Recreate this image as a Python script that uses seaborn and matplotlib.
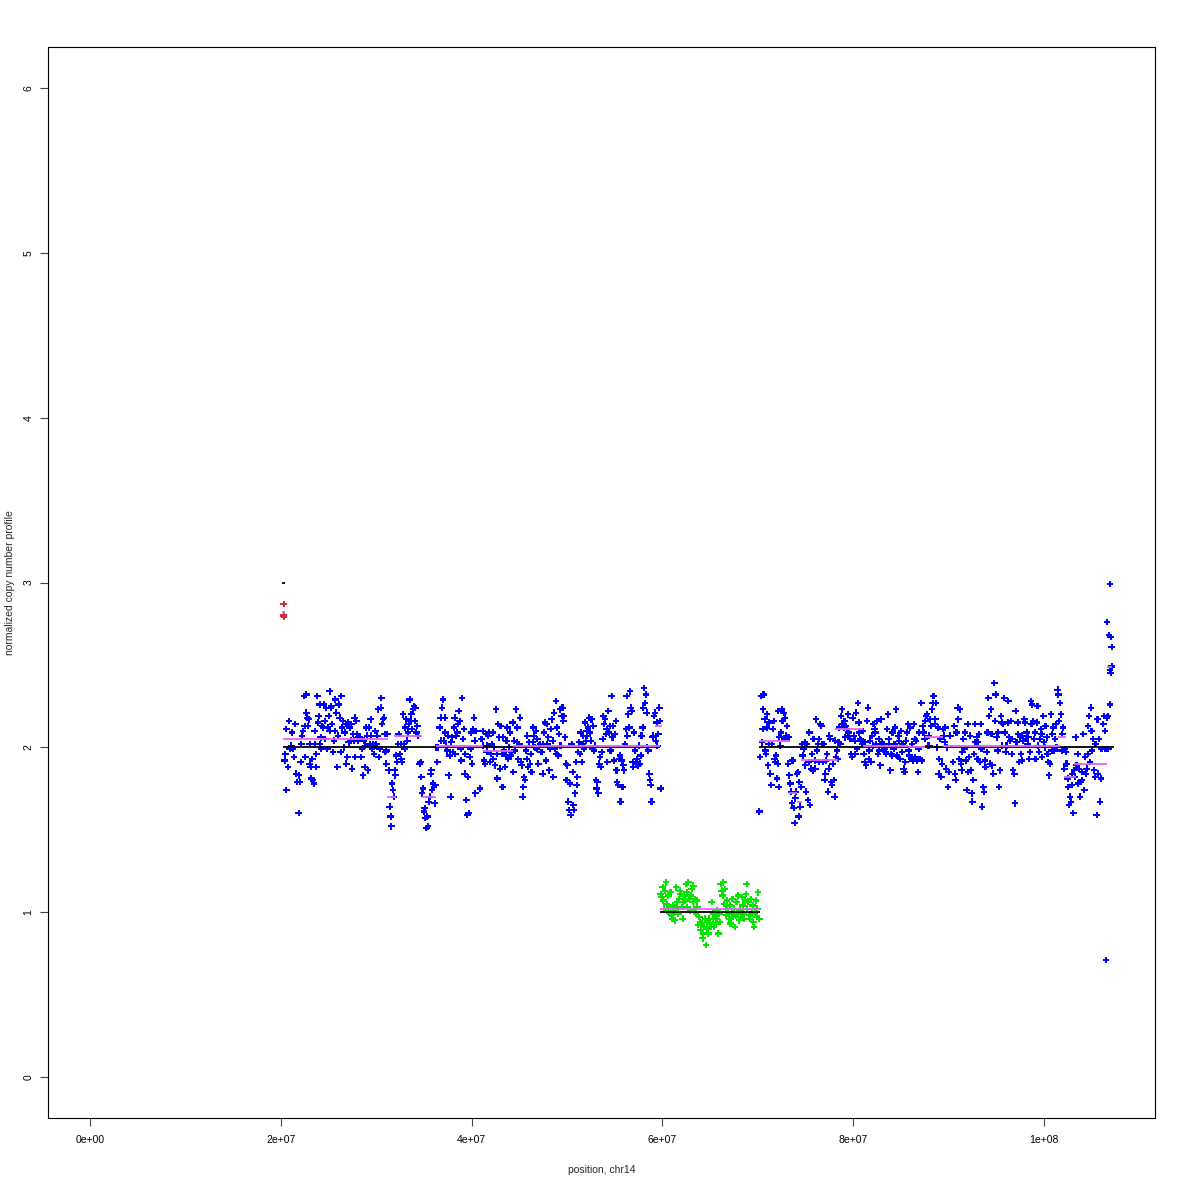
import numpy as np
import pandas as pd
import matplotlib
matplotlib.use('Agg')
import matplotlib.pyplot as plt
import seaborn as sns

# probe positions (Mb) and normalized copy number
# first block (copy number 2)
arm1_pos = [
    20.41, 20.48, 20.58, 20.58, 20.76, 20.86, 20.93, 21.04, 21.11, 21.18,
    21.28, 21.39, 21.53, 21.63, 21.74, 21.88, 21.88, 21.98, 22.09, 22.16,
    22.23, 22.33, 22.44, 22.51, 22.58, 22.68, 22.68, 22.78, 22.85, 22.92,
    23.03, 23.03, 23.13, 23.20, 23.31, 23.38, 23.48, 23.55, 23.62, 23.73,
    23.73, 23.83, 23.90, 23.97, 24.08, 24.08, 24.18, 24.25, 24.32, 24.43,
    24.53, 24.60, 24.67, 24.78, 24.88, 24.95, 25.02, 25.13, 25.13, 25.23,
    25.30, 25.37, 25.48, 25.58, 25.65, 25.72, 25.82, 25.93, 26.00, 26.07,
    26.17, 26.28, 26.35, 26.42, 26.52, 26.63, 26.70, 26.80, 26.87, 26.98,
    27.05, 27.12, 27.22, 27.33, 27.40, 27.47, 27.57, 27.68, 27.75, 27.82,
    27.92, 28.03, 28.10, 28.17, 28.27, 28.38, 28.45, 28.52, 28.62, 28.72,
    28.79, 28.86, 28.97, 29.07, 29.14, 29.21, 29.32, 29.42, 29.49, 29.56,
    29.67, 29.77, 29.84, 29.91, 30.02, 30.12, 30.19, 30.26, 30.37, 30.47,
    30.54, 30.61, 30.72, 30.82, 30.89, 30.96, 31.07, 31.07, 31.17, 31.31,
    31.41, 31.52, 31.59, 31.66, 31.76, 31.87, 31.94, 32.01, 32.11, 32.22,
    32.29, 32.36, 32.46, 32.57, 32.64, 32.71, 32.81, 32.92, 32.99, 33.06,
    33.16, 33.27, 33.34, 33.41, 33.51, 33.62, 33.69, 33.76, 33.86, 33.97,
    34.04, 34.11, 34.21, 34.31, 34.38, 34.56, 34.66, 34.73, 34.80, 34.91,
    35.01, 35.08, 35.15, 35.26, 35.36, 35.43, 35.50, 35.61, 35.71, 35.78,
    35.85, 35.96, 36.06, 36.13, 36.20, 36.31, 36.41, 36.48, 36.66, 36.76,
    36.83, 36.90, 37.01, 37.11, 37.18, 37.25, 37.35, 37.46, 37.53, 37.60,
    37.70, 37.81, 37.88, 37.95, 38.05, 38.16, 38.23, 38.30, 38.40, 38.51,
    38.58, 38.65, 38.75, 38.86, 38.93, 39.00, 39.10, 39.21, 39.28, 39.35,
    39.45, 39.56, 39.63, 39.70, 39.80, 39.91, 39.98, 40.05, 40.15, 40.26,
    40.33, 40.39, 40.50,
    40.88, 41.05, 41.16, 41.23, 41.30, 41.40, 41.51, 41.58, 41.65, 41.75,
    41.86, 41.93, 42.00, 42.10, 42.21, 42.28, 42.35, 42.45, 42.56, 42.63,
    42.70, 42.80, 42.90, 42.97, 43.04, 43.15, 43.25, 43.32, 43.39, 43.50,
    43.60, 43.67, 43.74, 43.85, 43.95, 44.02, 44.09, 44.20, 44.30, 44.37,
    44.44, 44.55, 44.65, 44.72, 44.79, 44.90, 45.00, 45.07, 45.14, 45.25,
    45.35, 45.42, 45.49, 45.60, 45.70, 45.77, 45.84, 45.94, 46.05, 46.12,
    46.19, 46.29, 46.40, 46.47, 46.54, 46.64, 46.75, 46.82, 46.89, 46.99,
    47.10, 47.17, 47.24, 47.34, 47.45, 47.52, 47.59, 47.69, 47.80, 47.87,
    47.94, 48.04, 48.15, 48.22, 48.29, 48.39, 48.50, 48.57, 48.63, 48.74,
    48.84, 48.91, 48.98, 49.09, 49.19, 49.26, 49.33, 49.44, 49.54, 49.61,
    49.68, 49.79, 49.89, 49.96, 50.03, 50.14, 50.24, 50.31, 50.38, 50.49,
    50.59, 50.66, 50.73, 50.84, 50.94, 51.01, 51.08, 51.19, 51.29, 51.36,
    51.43, 51.54, 51.64, 51.71, 51.78, 51.88, 51.99, 52.06, 52.13, 52.23,
    52.34, 52.41, 52.48, 52.58, 52.69, 52.76, 52.83, 52.93, 53.04, 53.11,
    53.18, 53.28, 53.39, 53.46, 53.53, 53.63, 53.74, 53.81, 53.88, 53.98,
    54.09, 54.16, 54.23, 54.33, 54.43, 54.50, 54.57, 54.68, 54.78, 54.85,
    54.92, 55.03, 55.13, 55.20, 55.27, 55.38, 55.48, 55.55, 55.62, 55.73,
    55.83, 55.90, 55.97, 56.08, 56.18, 56.25, 56.32, 56.43, 56.53, 56.60,
    56.67, 56.78, 56.88, 56.95, 57.02, 57.13, 57.23, 57.30, 57.37, 57.48,
    57.58, 57.65, 57.72, 57.82, 57.93, 58.00, 58.07, 58.17, 58.28, 58.35,
    58.42, 58.52, 58.63, 58.70, 58.77, 58.87, 58.98, 59.05, 59.12, 59.22,
    59.33, 59.40, 59.47, 59.57, 59.68, 59.75, 59.82,
]
arm1_cn = [
    1.92, 1.96, 2.11, 1.74, 1.88, 2.16, 1.99, 2.00, 2.01, 2.09,
    1.99, 1.94, 2.14, 1.84, 1.79, 1.83, 1.60, 1.79, 1.91, 2.02,
    2.07, 2.10, 2.31, 2.13, 1.94, 2.32, 2.21, 2.18, 2.13, 2.17,
    2.02, 1.90, 1.88, 1.81, 1.93, 1.80, 1.78, 2.10, 2.02, 1.96,
    1.88, 2.31, 2.15, 2.19, 2.26, 2.02, 2.06, 1.99, 2.13, 2.12,
    2.26, 2.16, 2.05, 2.24, 1.99, 2.12, 2.19, 2.34, 2.10, 2.24,
    2.25, 2.14, 1.97, 2.04, 2.10, 2.29, 2.21, 1.88, 2.07, 2.26,
    2.18, 1.97, 2.31, 2.12, 2.16, 2.00, 2.09, 2.14, 1.90, 1.94,
    2.15, 2.03, 2.12, 2.04, 2.14, 1.87, 2.08, 2.04, 2.18, 1.94,
    2.16, 2.08, 2.04, 2.06, 2.06, 2.05, 1.94, 1.99, 1.83, 2.04,
    1.88, 2.01, 2.12, 2.07, 1.86, 2.12, 2.02, 2.17, 2.07, 1.99,
    2.02, 1.96, 2.01, 2.10, 2.02, 2.07, 2.23, 1.94, 1.99, 2.24,
    2.30, 2.14, 2.17, 2.18, 2.08, 1.97, 1.90, 1.98, 2.08, 1.86,
    1.64, 1.58, 1.52, 1.78, 1.74, 1.70, 1.86, 1.83, 1.95, 1.91,
    2.02, 2.08, 1.96, 2.02, 1.93, 1.91, 2.20, 2.02, 1.99, 2.12,
    2.17, 2.04, 2.09, 2.14, 2.29, 2.16, 2.20, 2.11, 2.23, 2.25,
    2.16, 2.24, 2.09, 2.13, 2.07, 1.90, 1.91, 1.82, 1.72, 1.75,
    1.61, 1.63, 1.57, 1.51, 1.58, 1.52, 1.67, 1.70, 1.84, 1.86,
    1.74, 1.78, 1.76, 1.66, 1.77, 2.00, 1.91, 2.00, 2.12, 2.18,
    2.04, 2.24, 2.29, 2.04, 2.18, 2.09, 2.01, 1.98, 2.07, 1.83,
    1.95, 1.70, 2.03, 2.06, 1.97, 2.12, 2.18, 1.96, 2.07, 2.09,
    2.14, 2.22, 2.16, 1.99, 1.92, 2.30, 2.05, 2.11, 1.84, 1.96,
    1.68, 1.59, 1.82, 1.60, 1.94, 1.99, 2.09, 1.90, 2.11, 2.18,
    2.04, 1.72, 2.10,
    1.75, 2.05, 2.10, 2.01, 1.92, 1.90, 2.08, 1.97, 2.01, 2.07,
    2.09, 1.91, 1.96, 2.02, 2.09, 1.93, 2.00, 1.89, 2.23, 1.96,
    1.81, 2.14, 2.06, 1.87, 2.13, 1.96, 1.76, 2.06, 1.98, 1.88,
    1.95, 2.04, 2.12, 1.93, 2.00, 2.09, 1.95, 1.97, 2.15, 1.85,
    2.04, 1.98, 2.23, 2.03, 2.12, 1.93, 2.02, 2.18, 1.91, 1.89,
    1.70, 1.76, 1.82, 1.80, 1.98, 1.93, 2.07, 1.88, 2.03, 1.90,
    1.96, 1.85, 2.03, 2.12, 2.07, 2.00, 2.10, 1.99, 2.05, 1.90,
    2.01, 2.02, 1.97, 1.97, 1.84, 2.02, 2.09, 2.15, 1.92, 2.14,
    2.02, 2.06, 1.86, 1.99, 2.11, 2.17, 2.04, 1.82, 2.21, 1.99,
    2.28, 1.96, 2.12, 1.95, 2.08, 2.23, 2.01, 2.19, 2.24, 2.16,
    2.19, 2.06, 1.90, 1.80, 1.89, 1.67, 1.62, 1.78, 1.59, 2.02,
    1.85, 1.65, 1.62, 1.72, 1.91, 1.77, 1.82, 1.97, 2.03, 1.96,
    2.09, 1.91, 2.02, 2.07, 1.99, 2.15, 2.04, 2.10, 2.07, 2.12,
    2.18, 2.09, 2.04, 2.17, 1.99, 2.13, 1.98, 2.01, 1.80, 1.75,
    1.79, 1.72, 1.90, 1.94, 1.88, 1.97, 2.05, 2.19, 2.14, 2.17,
    2.08, 2.11, 1.91, 2.22, 2.09, 2.13, 1.98, 2.31, 2.06, 2.13,
    1.92, 2.08, 2.16, 1.86, 1.79, 1.77, 1.93, 1.95, 1.67, 1.92,
    1.76, 1.89, 1.86, 2.02, 2.11, 2.31, 2.07, 2.20, 2.12, 2.34,
    2.24, 2.22, 1.91, 1.88, 2.09, 1.98, 1.90, 1.93, 1.91, 1.89,
    2.01, 1.90, 1.95, 2.07, 2.12, 2.24, 2.36, 2.27, 2.32, 2.21,
    2.00, 1.98, 1.84, 1.80, 1.77, 1.67, 2.06, 2.07, 2.19, 2.21,
    2.04, 2.15, 2.01, 2.08, 2.24, 2.16, 1.75,
]

# second block (copy number 2, after the loss)
arm2_pos = [
    70.16, 70.26, 70.37, 70.44, 70.51, 70.54, 70.61, 70.72, 70.79, 70.86,
    70.96, 70.96, 71.07, 71.14, 71.21, 71.31, 71.42, 71.49, 71.56, 71.66,
    71.77, 71.84, 71.91, 72.01, 72.12, 72.12, 72.19, 72.26, 72.36, 72.46,
    72.53, 72.60, 72.71, 72.81, 72.88, 72.95, 73.06, 73.16, 73.23, 73.30,
    73.41, 73.51, 73.58, 73.65, 73.76, 73.86, 73.93, 74.00, 74.11, 74.21,
    74.28, 74.35, 74.46, 74.56, 74.63, 74.70, 74.81, 74.91, 74.98, 75.05,
    75.16, 75.26, 75.33, 75.40, 75.50, 75.61, 75.68, 75.75, 75.85, 75.96,
    76.03, 76.10, 76.20, 76.31, 76.38, 76.45, 76.55, 76.66, 76.73, 76.80,
    76.90, 77.01, 77.08, 77.15, 77.25, 77.36, 77.43, 77.50, 77.60, 77.71,
    77.78, 77.85, 77.95, 78.06, 78.13, 78.20, 78.30, 78.40, 78.47, 78.54,
    78.65, 78.75, 78.82, 78.89, 79.00, 79.10, 79.17, 79.24, 79.35, 79.45,
    79.52, 79.59, 79.70, 79.80, 79.87, 79.94, 80.05, 80.15, 80.22, 80.29,
    80.40, 80.50, 80.57, 80.64, 80.75, 80.85, 80.92, 80.99, 81.10, 81.20,
    81.27, 81.34, 81.45, 81.55, 81.62, 81.69, 81.79, 81.90, 81.97, 82.04,
    82.14, 82.25, 82.32, 82.39, 82.49, 82.60, 82.67, 82.74, 82.84, 82.95,
    83.02, 83.09, 83.19, 83.30, 83.37, 83.44, 83.54, 83.65, 83.72, 83.79,
    83.89, 84.00, 84.06, 84.13, 84.24, 84.34, 84.41, 84.48, 84.59, 84.69,
    84.76, 84.83, 84.94, 85.04, 85.11, 85.18, 85.29, 85.39, 85.46, 85.53,
    85.64, 85.74, 85.81, 85.88, 85.99, 86.09, 86.16, 86.23, 86.34, 86.44,
    86.51, 86.58, 86.69, 86.79, 86.86, 86.93, 87.03, 87.14, 87.21, 87.28,
    87.38, 87.49, 87.56, 87.63, 87.73, 87.84, 87.91, 87.98, 88.08, 88.19,
    88.26, 88.33, 88.43, 88.54, 88.61, 88.68, 88.78, 88.89, 88.96, 89.03,
    89.13, 89.24, 89.31, 89.38, 89.48, 89.59, 89.66, 89.72, 89.83, 89.94,
    90.01, 90.18,
    90.49, 90.60, 90.67, 90.74, 90.84, 90.95, 91.02, 91.09, 91.19, 91.30,
    91.37, 91.44, 91.54, 91.65, 91.72, 91.79, 91.89, 92.00, 92.07, 92.14,
    92.24, 92.35, 92.42, 92.49, 92.59, 92.69, 92.76, 92.83, 92.94, 93.04,
    93.11, 93.18, 93.29, 93.39, 93.46, 93.53, 93.64, 93.74, 93.81, 93.88,
    93.99, 94.09, 94.16, 94.23, 94.34, 94.44, 94.51, 94.58, 94.69, 94.79,
    94.86, 94.93, 95.04, 95.14, 95.21, 95.28, 95.39, 95.49, 95.56, 95.63,
    95.73, 95.84, 95.91, 95.98, 96.08, 96.19, 96.26, 96.33, 96.43, 96.54,
    96.61, 96.68, 96.78, 96.89, 96.96, 97.03, 97.13, 97.24, 97.31, 97.38,
    97.48, 97.59, 97.66, 97.73, 97.83, 97.94, 98.01, 98.08, 98.18, 98.29,
    98.36, 98.42, 98.53, 98.63, 98.70, 98.77, 98.88, 98.98, 99.05, 99.12,
    99.23, 99.33, 99.40, 99.47, 99.58, 99.68, 99.75, 99.82, 99.93, 100.03,
    100.10, 100.17, 100.28, 100.38, 100.45, 100.52, 100.63, 100.73, 100.80, 100.87,
    100.98, 101.08, 101.15, 101.22, 101.32, 101.43, 101.50, 101.57, 101.67, 101.78,
    101.85, 101.92, 102.02, 102.13, 102.20, 102.27, 102.37, 102.48, 102.55, 102.62,
    102.72, 102.83, 102.90, 102.97, 103.07, 103.18, 103.25, 103.32, 103.42, 103.53,
    103.60, 103.67, 103.77, 103.88, 103.95, 104.02, 104.12, 104.23, 104.30, 104.37,
    104.47, 104.58, 104.64, 104.71, 104.82, 104.92, 104.99, 105.06, 105.17, 105.27,
    105.34, 105.41, 105.52, 105.62, 105.69, 105.76, 105.87, 105.97, 106.04, 106.22,
    106.32, 106.39, 106.46, 106.57, 106.67, 106.74,
    106.50, 106.60, 106.80, 106.90, 106.90, 107.00, 107.00, 107.10, 107.10, 106.90,
]
arm2_cn = [
    1.61, 1.94, 2.31, 2.03, 2.11, 2.23, 2.32, 2.17, 1.98, 1.96,
    2.12, 2.20, 1.89, 2.02, 2.15, 1.84, 1.77, 2.02, 2.11, 2.16,
    1.93, 1.91, 1.95, 1.81, 2.22, 1.90, 1.76, 2.06, 2.01, 2.09,
    2.23, 2.16, 2.21, 2.05, 2.18, 2.07, 2.13, 1.90, 2.06, 1.83,
    1.78, 1.73, 1.66, 1.92, 1.63, 1.54, 1.69, 1.73, 1.84, 1.85,
    1.58, 1.79, 1.64, 1.76, 2.02, 1.95, 1.99, 2.03, 1.89, 1.73,
    2.02, 1.68, 1.91, 2.09, 1.65, 1.87, 1.96, 1.86, 2.05, 1.92,
    1.87, 2.17, 1.98, 2.02, 2.05, 1.91, 2.14, 2.13, 2.02, 1.91,
    2.02, 1.80, 1.84, 1.92, 1.96, 1.73, 1.87, 2.07, 2.05, 1.79,
    1.77, 1.90, 1.80, 1.70, 2.04, 1.94, 1.98, 1.93, 2.03, 2.12,
    2.02, 2.19, 2.23, 2.14, 2.12, 2.16, 2.06, 2.13, 2.11, 2.20,
    2.09, 2.07, 2.05, 1.96, 1.94, 2.18, 2.07, 2.04, 1.96, 2.21,
    1.99, 2.27, 2.15, 2.09, 2.05, 2.04, 2.02, 2.10, 1.96, 1.91,
    2.03, 1.89, 2.16, 2.24, 1.93, 1.98, 2.04, 1.91, 2.07, 2.01,
    2.14, 2.11, 2.09, 2.02, 2.16, 1.96, 2.05, 1.98, 1.89, 2.17,
    2.03, 2.02, 1.98, 1.99, 1.97, 1.96, 2.11, 2.20, 2.05, 2.02,
    1.86, 1.96, 1.95, 2.09, 1.99, 2.02, 2.12, 2.23, 1.95, 1.94,
    2.07, 2.04, 1.93, 2.10, 1.97, 2.02, 1.87, 1.85, 1.91, 2.04,
    2.09, 2.14, 1.98, 1.95, 2.12, 1.93, 2.02, 1.92, 2.14, 2.05,
    1.94, 2.04, 1.92, 1.85, 1.99, 2.09, 1.93, 2.27, 1.92, 2.13,
    2.09, 2.05, 2.16, 2.19, 2.20, 2.01, 2.07, 2.01, 2.17, 2.13,
    2.23, 2.27, 2.31, 2.14, 2.17, 2.27, 2.00, 2.12, 1.84, 1.93,
    2.05, 1.82, 1.90, 2.11, 2.07, 2.03, 2.12, 1.87, 2.00, 1.76,
    1.85, 2.07,
    1.91, 2.13, 1.84, 1.80, 2.09, 2.24, 2.17, 1.93, 2.23, 1.90,
    1.86, 1.97, 2.05, 1.99, 2.09, 1.92, 1.74, 2.14, 1.85, 1.94,
    2.07, 1.86, 1.72, 1.67, 1.80, 1.96, 2.14, 2.03, 2.06, 1.93,
    2.03, 2.08, 1.91, 2.14, 1.99, 1.64, 1.76, 1.73, 1.92, 1.88,
    1.97, 2.09, 2.30, 2.19, 1.90, 2.23, 2.08, 1.89, 1.84, 2.39,
    2.16, 2.32, 2.06, 1.98, 2.09, 1.76, 1.86, 2.19, 2.15, 2.01,
    2.14, 2.30, 2.09, 1.97, 2.01, 2.15, 2.28, 2.06, 2.04, 2.16,
    1.96, 2.05, 1.86, 1.84, 1.66, 2.22, 2.03, 2.15, 2.08, 1.91,
    2.06, 1.96, 1.92, 2.07, 2.04, 2.17, 2.15, 2.05, 2.09, 2.02,
    2.06, 1.93, 1.97, 2.28, 2.14, 2.26, 2.16, 2.05, 2.09, 1.93,
    2.15, 2.25, 2.01, 1.97, 2.05, 2.11, 2.08, 1.94, 2.19, 2.03,
    2.00, 2.13, 2.06, 1.96, 1.91, 1.83, 1.90, 2.20, 1.98, 2.08,
    2.12, 1.98, 2.05, 2.14, 2.00, 2.35, 2.32, 2.16, 2.27, 2.20,
    1.98, 2.08, 2.12, 1.87, 1.99, 1.97, 1.90, 1.81, 1.76, 1.65,
    1.70, 1.67, 1.77, 1.84, 1.60, 1.86, 1.82, 2.06, 1.89, 1.96,
    1.78, 1.87, 1.70, 1.79, 1.80, 1.85, 2.08, 1.74, 1.94, 1.84,
    1.87, 1.96, 2.13, 2.19, 1.91, 2.24, 2.10, 1.98, 2.05, 1.86,
    1.82, 2.02, 1.59, 2.17, 1.84, 2.05, 1.67, 1.81, 1.99, 2.14,
    2.19, 2.10, 1.99, 2.18, 2.19, 1.99,
    0.71, 2.76, 2.68, 2.99, 2.47, 2.67, 2.45, 2.61, 2.49, 2.26,
]

# single-copy loss (copy number 1)
loss_pos = [
    59.82, 59.92, 60.03, 60.10, 60.17, 60.27, 60.38, 60.45, 60.52, 60.62,
    60.72, 60.79, 60.86, 60.97, 61.07, 61.14, 61.21, 61.32, 61.42, 61.49,
    61.56, 61.67, 61.77, 61.84, 61.91, 62.02, 62.12, 62.19, 62.26, 62.37,
    62.47, 62.54, 62.61, 62.72, 62.82, 62.89, 62.96, 63.07, 63.17, 63.24,
    63.31, 63.42, 63.52, 63.59, 63.66, 63.76, 63.87, 63.94, 64.01, 64.11,
    64.22, 64.29, 64.36, 64.46, 64.57, 64.64, 64.71, 64.81, 64.92, 64.99,
    65.06, 65.16, 65.27, 65.34, 65.41, 65.51, 65.62, 65.69, 65.76, 65.86,
    65.97, 66.04, 66.11, 66.21, 66.32, 66.39, 66.46, 66.56, 66.66, 66.73,
    66.80, 66.91, 67.01, 67.08, 67.15, 67.26, 67.36, 67.43, 67.50, 67.61,
    67.71, 67.78, 67.85, 67.96, 68.06, 68.13, 68.20, 68.31, 68.41, 68.48,
    68.55, 68.66, 68.76, 68.83, 68.90, 69.01, 69.11, 69.18, 69.25, 69.36,
    69.46, 69.53, 69.60, 69.71, 69.81, 69.88, 69.95, 70.05, 70.16,
]
loss_cn = [
    1.11, 1.09, 1.15, 1.07, 1.02, 1.13, 1.18, 1.05, 1.01, 1.10,
    1.03, 0.99, 1.12, 0.98, 0.96, 1.04, 1.01, 0.95, 1.15, 1.02,
    1.06, 0.99, 1.08, 1.13, 1.11, 1.03, 0.96, 1.06, 1.10, 1.07,
    1.17, 1.12, 1.03, 1.18, 1.08, 1.01, 1.10, 1.14, 1.06, 1.16,
    1.02, 1.08, 0.99, 1.07, 1.03, 0.92, 0.97, 0.94, 0.89, 0.93,
    0.84, 0.87, 0.91, 0.96, 0.80, 0.90, 0.94, 0.87, 0.96, 0.93,
    0.91, 1.06, 0.96, 0.99, 0.91, 0.97, 0.93, 0.96, 1.01, 0.87,
    0.99, 0.94, 1.17, 1.13, 1.10, 1.18, 1.05, 1.14, 0.98, 1.02,
    1.07, 0.99, 0.96, 1.04, 0.93, 0.99, 1.08, 0.97, 1.02, 0.91,
    0.98, 1.06, 0.99, 1.10, 0.95, 1.01, 0.97, 1.09, 1.04, 0.99,
    0.96, 1.07, 1.11, 1.17, 1.02, 1.06, 0.98, 0.96, 1.08, 0.99,
    1.04, 0.94, 0.91, 0.99, 1.07, 0.97, 1.02, 1.12, 0.96,
]

# gain (copy number 3) at the start of the arm
gain_pos = [20.30, 20.30, 20.32]
gain_cn = [2.87, 2.80, 2.79]

# copy number state segments (black) and segment medians (magenta), in Mb
state_start = [20.10, 20.23, 59.75, 70.10]
state_end = [20.42, 59.80, 70.20, 107.30]
state_level = [3, 2, 1, 2]

med_start = [20.10, 20.23, 31.10, 31.90, 34.80, 36.30, 41.20, 44.30, 59.20, 59.75,
             70.10, 73.30, 74.10, 74.50, 78.10, 81.00, 85.80, 87.50, 89.40, 101.50,
             102.10, 103.10, 106.60]
med_end = [20.42, 31.20, 32.10, 34.80, 36.30, 41.20, 44.30, 59.80, 60.00, 70.20,
           73.40, 74.10, 74.60, 78.40, 81.00, 85.80, 87.50, 89.40, 101.70, 102.30,
           103.40, 106.60, 107.10]
med_level = [2.82, 2.05, 1.70, 2.07, 1.70, 2.01, 1.98, 2.005, 2.13, 1.02,
             2.04, 1.72, 1.67, 1.92, 2.11, 2.01, 2.00, 2.06, 2.01, 2.06,
             1.82, 1.90, 2.49]

x_ticks = [0, 2e7, 4e7, 6e7, 8e7, 1e8]
x_tick_labels = ['0e+00', '2e+07', '4e+07', '6e+07', '8e+07', '1e+08']
y_ticks = [0, 1, 2, 3, 4, 5, 6]

""" Build table """
parts = []
for pos, cn, state in [(arm1_pos, arm1_cn, 'two'), (arm2_pos, arm2_cn, 'two'),
                       (loss_pos, loss_cn, 'one'), (gain_pos, gain_cn, 'three')]:
    parts.append(pd.DataFrame({'pos': np.array(pos) * 1e6, 'cn': cn, 'state': state}))
data = pd.concat(parts, ignore_index=True)

""" Plot """
sns.set_theme(style='ticks')
plt.rcParams['font.family'] = ['Liberation Sans', 'DejaVu Sans']

fig = plt.figure(figsize=(11.8, 11.8), dpi=100)
ax = fig.add_axes([48 / 1180, 62 / 1180, 1107 / 1180, 1071 / 1180])

palette = {'two': '#0000FF', 'one': '#00E600', 'three': '#D42A2A'}
sns.scatterplot(data=data, x='pos', y='cn', hue='state', palette=palette,
                marker='P', s=22, linewidth=0, legend=False, ax=ax, zorder=2)

ax.hlines(state_level, np.array(state_start) * 1e6, np.array(state_end) * 1e6,
          color='black', linewidth=1.3, zorder=3)
ax.hlines(med_level, np.array(med_start) * 1e6, np.array(med_end) * 1e6,
          color='#E466F4', linewidth=1.3, zorder=4)

ax.set_xlim(-4.4e6, 1.1164e8)
ax.set_ylim(-0.25, 6.25)
ax.set_xticks(x_ticks)
ax.set_xticklabels(x_tick_labels)
ax.set_yticks(y_ticks)
ax.set_yticklabels([str(v) for v in y_ticks], rotation=90, va='center')
ax.tick_params(axis='both', length=5.5, width=0.8, color='#444444', labelsize=7.5, colors='black')
ax.tick_params(axis='x', pad=7)
ax.tick_params(axis='y', pad=5)
for sp in ax.spines.values():
    sp.set_visible(True)
    sp.set_color('black')
    sp.set_linewidth(0.8)

ax.set_xlabel('position, chr14', fontsize=7.5, labelpad=14)
ax.set_ylabel('normalized copy number profile', fontsize=7.5, labelpad=6)

fig.savefig('out.png', dpi=100, facecolor='white')
